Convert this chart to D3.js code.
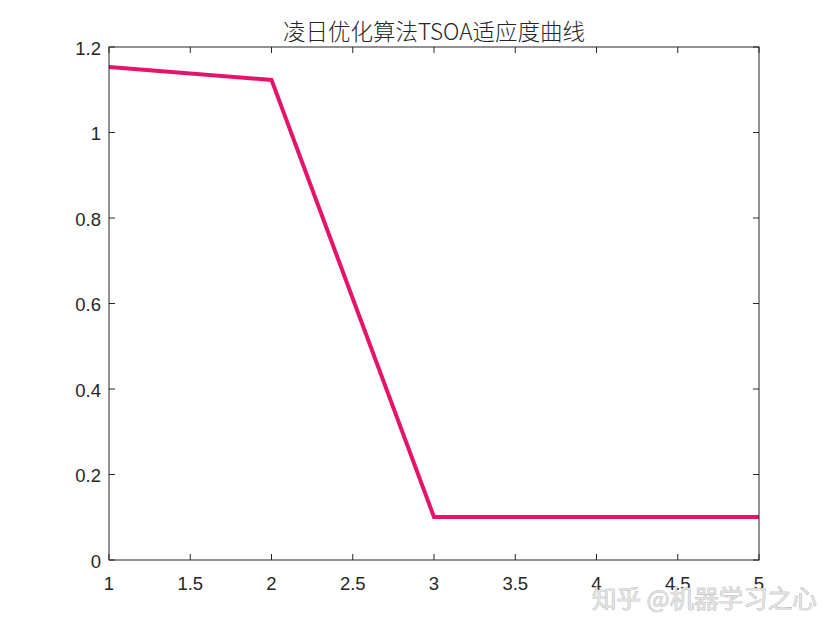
<!DOCTYPE html>
<html><head><meta charset="utf-8">
<script src="https://cdn.jsdelivr.net/npm/d3@7"></script>
<style>body{margin:0;background:#fff}svg{display:block}</style>
</head><body>
<svg id="c" width="840" height="630"></svg>
<script>
const iterations = [1, 2, 3, 4, 5];
const fitness = [1.153, 1.123, 0.1005, 0.1005, 0.1005];
const xTicks = [1, 1.5, 2, 2.5, 3, 3.5, 4, 4.5, 5];
const yTicks = [0, 0.2, 0.4, 0.6, 0.8, 1, 1.2];
const titleText = "凌日优化算法TSOA适应度曲线";
const watermark = "知乎 @机器学习之心";

const svg = d3.select("#c");
const L = 109, R = 759, T = 47, B = 560;
const x = d3.scaleLinear().domain([1, 5]).range([L, R]);
const y = d3.scaleLinear().domain([0, 1.2]).range([B, T]);
const font = "'Liberation Sans', Arial, sans-serif";

svg.append("rect").attr("width", 840).attr("height", 630).attr("fill", "#fff");

const tl = 6;
const g = svg.append("g").attr("stroke", "#262626").attr("stroke-width", 1);
xTicks.forEach(v => {
  g.append("line").attr("x1", x(v)).attr("x2", x(v)).attr("y1", B).attr("y2", B - tl);
  g.append("line").attr("x1", x(v)).attr("x2", x(v)).attr("y1", T).attr("y2", T + tl);
});
yTicks.forEach(v => {
  g.append("line").attr("x1", L).attr("x2", L + tl).attr("y1", y(v)).attr("y2", y(v));
  g.append("line").attr("x1", R).attr("x2", R - tl).attr("y1", y(v)).attr("y2", y(v));
});

const line = d3.line().x((d, i) => x(iterations[i])).y(d => y(d));
svg.append("path").datum(fitness).attr("d", line)
  .attr("fill", "none").attr("stroke", "#E6136B").attr("stroke-width", 4)
  .attr("stroke-linejoin", "miter");

svg.append("rect").attr("x", L).attr("y", T).attr("width", R - L).attr("height", B - T)
  .attr("fill", "none").attr("stroke", "#262626").attr("stroke-width", 1);

svg.append("g").selectAll("text").data(xTicks).join("text")
  .attr("x", d => x(d)).attr("y", 590).attr("text-anchor", "middle")
  .attr("font-family", font).attr("font-size", 18.5).attr("fill", "#262626")
  .text(d => d3.format("")(d));
svg.append("g").selectAll("text").data(yTicks).join("text")
  .attr("x", 101).attr("y", d => y(d) + 7.5).attr("text-anchor", "end")
  .attr("font-family", font).attr("font-size", 18.5).attr("fill", "#262626")
  .text(d => d3.format("")(d));

svg.append("text").attr("x", (L + R) / 2).attr("y", 40).attr("text-anchor", "middle")
  .attr("font-family", "'Noto Sans CJK SC', sans-serif").attr("font-size", 22.5)
  .attr("font-weight", 300).attr("fill", "#262626")
  .text(titleText);

svg.append("text").attr("x", 592).attr("y", 608)
  .attr("font-family", "'Noto Sans CJK SC', sans-serif").attr("font-size", 24.5)
  .attr("fill", "#e2e2e2").attr("stroke", "#a0a0a0").attr("stroke-width", 0.6)
  .attr("paint-order", "stroke")
  .text(watermark);
</script>
</body></html>
